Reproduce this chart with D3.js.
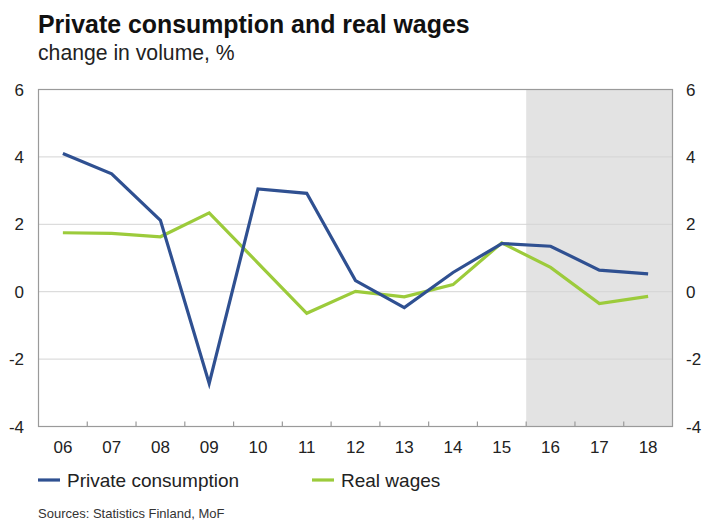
<!DOCTYPE html>
<html>
<head>
<meta charset="utf-8">
<script src="https://cdn.jsdelivr.net/npm/d3@7"></script>
<style>
  html, body { margin: 0; padding: 0; background: #fff; }
  svg { display: block; font-family: "Liberation Sans", Arial, Helvetica, sans-serif; }
</style>
</head>
<body>
<svg id="chart" width="702" height="520"></svg>
<script>
// Years shown on the x axis (two-digit labels)
const years = ["06", "07", "08", "09", "10", "11", "12", "13", "14", "15", "16", "17", "18"];
// Annual change in volume, %
const privateConsumption = [4.1, 3.5, 2.12, -2.72, 3.05, 2.92, 0.33, -0.47, 0.57, 1.43, 1.35, 0.64, 0.53];
const realWages = [1.75, 1.73, 1.63, 2.34, 0.85, -0.64, 0.01, -0.15, 0.21, 1.45, 0.72, -0.35, -0.14];
// Forecast years (shaded)
const forecastYears = ["16", "17", "18"];
const yTicks = [-4, -2, 0, 2, 4, 6];

const seriesList = [
  { name: "Private consumption", values: privateConsumption, color: "#2f5091" },
  { name: "Real wages", values: realWages, color: "#9ccb3b" }
];

const svg = d3.select("#chart");
const plot = { left: 38.5, right: 672.5, top: 89.5, bottom: 426.5 };

const x = d3.scaleBand().domain(years).range([plot.left, plot.right]);
const y = d3.scaleLinear().domain([-4, 6]).range([plot.bottom, plot.top]);

// Forecast shading
svg.append("rect")
  .attr("x", x(forecastYears[0]))
  .attr("y", plot.top)
  .attr("width", plot.right - x(forecastYears[0]))
  .attr("height", plot.bottom - plot.top)
  .attr("fill", "#e3e3e3");

// Horizontal gridlines
svg.append("g")
  .selectAll("line")
  .data(yTicks.filter(d => d > -4 && d < 6))
  .join("line")
  .attr("x1", plot.left).attr("x2", plot.right)
  .attr("y1", d => y(d)).attr("y2", d => y(d))
  .attr("stroke", "#d4d4d4").attr("stroke-width", 1);

// Frame
svg.append("rect")
  .attr("x", plot.left).attr("y", plot.top)
  .attr("width", plot.right - plot.left).attr("height", plot.bottom - plot.top)
  .attr("fill", "none").attr("stroke", "#9a9a9a").attr("stroke-width", 1.2);

// Bottom axis: ticks at category boundaries, labels centred in bands
const boundaries = years.slice(1).map(d => x(d));
svg.append("g")
  .selectAll("line")
  .data(boundaries)
  .join("line")
  .attr("x1", d => d).attr("x2", d => d)
  .attr("y1", plot.bottom).attr("y2", plot.bottom - 5)
  .attr("stroke", "#9a9a9a").attr("stroke-width", 1.2);

svg.append("g")
  .selectAll("text")
  .data(years)
  .join("text")
  .attr("x", d => x(d) + x.bandwidth() / 2)
  .attr("y", 453)
  .attr("text-anchor", "middle")
  .attr("font-size", 17)
  .attr("fill", "#222")
  .text(d => d);

// Left and right value labels
const yLabelG = svg.append("g").attr("font-size", 17).attr("fill", "#222");
yLabelG.selectAll("text.l")
  .data(yTicks).join("text").attr("class", "l")
  .attr("x", 24).attr("y", d => y(d) + 6)
  .attr("text-anchor", "end")
  .text(d => d);
yLabelG.selectAll("text.r")
  .data(yTicks).join("text").attr("class", "r")
  .attr("x", 686).attr("y", d => y(d) + 6)
  .attr("text-anchor", "start")
  .text(d => d);

// Lines
const line = d3.line()
  .x((d, i) => x(years[i]) + x.bandwidth() / 2)
  .y(d => y(d));

svg.append("g")
  .selectAll("path")
  .data([...seriesList].reverse())
  .join("path")
  .attr("d", d => line(d.values))
  .attr("fill", "none")
  .attr("stroke", d => d.color)
  .attr("stroke-width", 3.2)
  .attr("stroke-linejoin", "miter");

// Title and subtitle
svg.append("text")
  .attr("x", 38).attr("y", 33)
  .attr("font-size", 24.9).attr("font-weight", "bold").attr("fill", "#111")
  .text("Private consumption and real wages");
svg.append("text")
  .attr("x", 38).attr("y", 60)
  .attr("font-size", 21.2).attr("fill", "#222")
  .text("change in volume, %");

// Legend
const legendX = [38, 312];
const legend = svg.append("g")
  .selectAll("g")
  .data(seriesList)
  .join("g")
  .attr("transform", (d, i) => `translate(${legendX[i]},480)`);
legend.append("line")
  .attr("x1", 0).attr("x2", 22)
  .attr("stroke", d => d.color).attr("stroke-width", 3.2);
legend.append("text")
  .attr("x", 29).attr("y", 6.5)
  .attr("font-size", 19).attr("fill", "#222")
  .text(d => d.name);

// Source note
svg.append("text")
  .attr("x", 38).attr("y", 518)
  .attr("font-size", 13).attr("fill", "#333")
  .text("Sources: Statistics Finland, MoF");
</script>
</body>
</html>
